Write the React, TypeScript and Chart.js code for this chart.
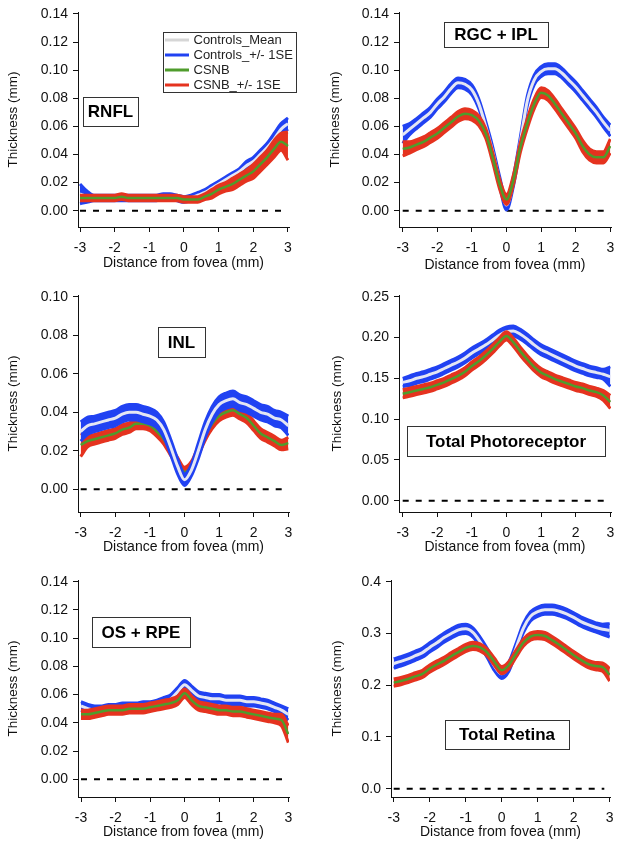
import React, { useEffect, useRef } from 'react';
import { Chart, registerables } from 'chart.js';

Chart.register(...registerables);

const FONT = '"Liberation Sans", Arial, Helvetica, sans-serif';

// ---------- data ----------
const distanceMm = [-3.0, -2.8, -2.6, -2.4, -2.2, -2.0, -1.8, -1.6, -1.4, -1.2, -1.0, -0.8, -0.6, -0.4, -0.2, 0.0, 0.2, 0.4, 0.6, 0.8, 1.0, 1.2, 1.4, 1.6, 1.8, 2.0, 2.2, 2.4, 2.6, 2.8, 3.0];

const legendLabels = ['Controls_Mean', 'Controls_+/- 1SE', 'CSNB', 'CSNB_+/- 1SE'];
const xTickValues = [-3, -2, -1, 0, 1, 2, 3];
const yTicks014 = [0, 0.02, 0.04, 0.06, 0.08, 0.1, 0.12, 0.14];
const yTicks010 = [0, 0.02, 0.04, 0.06, 0.08, 0.1];
const yTicks025 = [0, 0.05, 0.1, 0.15, 0.2, 0.25];
const yTicks04 = [0, 0.1, 0.2, 0.3, 0.4];
const zeroLineX = [-3, 2.85];
const zeroLineY = [0, 0];

// RNFL
const rnflCtrlMean = [0.012, 0.010, 0.009, 0.009, 0.009, 0.009, 0.009, 0.009, 0.009, 0.009, 0.009, 0.009, 0.010, 0.010, 0.009, 0.008, 0.009, 0.011, 0.013, 0.016, 0.019, 0.022, 0.025, 0.028, 0.032, 0.035, 0.040, 0.045, 0.051, 0.058, 0.062];
const rnflCtrlSE = [0.007, 0.004, 0.002, 0.002, 0.002, 0.002, 0.002, 0.002, 0.002, 0.002, 0.002, 0.002, 0.002, 0.002, 0.002, 0.002, 0.002, 0.002, 0.002, 0.002, 0.002, 0.002, 0.002, 0.002, 0.003, 0.003, 0.003, 0.003, 0.004, 0.004, 0.004];
const rnflCsnbMean = [0.009, 0.009, 0.009, 0.009, 0.009, 0.009, 0.010, 0.009, 0.009, 0.009, 0.009, 0.009, 0.009, 0.009, 0.009, 0.008, 0.008, 0.008, 0.010, 0.012, 0.015, 0.017, 0.019, 0.022, 0.025, 0.028, 0.033, 0.038, 0.044, 0.049, 0.046];
const rnflCsnbSE = [0.002, 0.002, 0.002, 0.002, 0.002, 0.002, 0.002, 0.002, 0.002, 0.002, 0.002, 0.002, 0.002, 0.002, 0.002, 0.002, 0.002, 0.002, 0.002, 0.003, 0.003, 0.003, 0.004, 0.004, 0.004, 0.005, 0.005, 0.005, 0.006, 0.006, 0.010];

// RGC + IPL
const rgcCtrlMean = [0.054, 0.058, 0.062, 0.066, 0.070, 0.076, 0.081, 0.087, 0.091, 0.090, 0.086, 0.076, 0.060, 0.042, 0.021, 0.004, 0.021, 0.049, 0.078, 0.093, 0.099, 0.101, 0.101, 0.098, 0.093, 0.088, 0.082, 0.076, 0.070, 0.063, 0.057];
const rgcCtrlSE = [0.006, 0.004, 0.0035, 0.0035, 0.0035, 0.0035, 0.0035, 0.0035, 0.0035, 0.0035, 0.0035, 0.0035, 0.0035, 0.0035, 0.0035, 0.0035, 0.0035, 0.0035, 0.0035, 0.0035, 0.0035, 0.0035, 0.0035, 0.0035, 0.0035, 0.0035, 0.0035, 0.0035, 0.0035, 0.0035, 0.004];
const rgcCsnbMean = [0.044, 0.045, 0.047, 0.049, 0.052, 0.055, 0.059, 0.063, 0.067, 0.069, 0.068, 0.064, 0.055, 0.038, 0.019, 0.008, 0.022, 0.045, 0.062, 0.076, 0.084, 0.082, 0.076, 0.069, 0.062, 0.055, 0.046, 0.040, 0.038, 0.038, 0.046];
const rgcCsnbSE = [0.005, 0.004, 0.0035, 0.0035, 0.0035, 0.0035, 0.0035, 0.0035, 0.0035, 0.0035, 0.0035, 0.0035, 0.0035, 0.0035, 0.0035, 0.0035, 0.0035, 0.0035, 0.0035, 0.0035, 0.0035, 0.0035, 0.0035, 0.0035, 0.0035, 0.0035, 0.004, 0.004, 0.004, 0.004, 0.005];

// INL
const inlCtrlMean = [0.030, 0.033, 0.034, 0.035, 0.036, 0.037, 0.039, 0.040, 0.040, 0.039, 0.038, 0.036, 0.031, 0.022, 0.012, 0.005, 0.010, 0.020, 0.031, 0.039, 0.044, 0.046, 0.047, 0.045, 0.044, 0.042, 0.040, 0.039, 0.037, 0.036, 0.033];
const inlCtrlSE = [0.005, 0.0045, 0.004, 0.004, 0.004, 0.004, 0.004, 0.004, 0.004, 0.004, 0.004, 0.004, 0.004, 0.004, 0.004, 0.003, 0.003, 0.004, 0.004, 0.004, 0.004, 0.004, 0.004, 0.004, 0.004, 0.004, 0.004, 0.004, 0.004, 0.004, 0.005];
const inlCsnbMean = [0.023, 0.025, 0.026, 0.027, 0.028, 0.029, 0.031, 0.032, 0.034, 0.034, 0.033, 0.030, 0.026, 0.020, 0.014, 0.009, 0.012, 0.020, 0.028, 0.034, 0.038, 0.040, 0.041, 0.039, 0.037, 0.033, 0.029, 0.027, 0.025, 0.023, 0.024];
const inlCsnbSE = [0.006, 0.003, 0.0025, 0.0025, 0.0025, 0.0025, 0.0025, 0.0025, 0.0025, 0.0025, 0.0025, 0.0025, 0.0025, 0.0025, 0.0025, 0.0025, 0.0025, 0.0025, 0.0025, 0.0025, 0.0025, 0.0025, 0.0025, 0.0025, 0.0025, 0.0025, 0.0025, 0.0025, 0.0025, 0.0025, 0.003];

// Total Photoreceptor
const prCtrlMean = [0.145, 0.147, 0.150, 0.152, 0.155, 0.158, 0.162, 0.166, 0.170, 0.175, 0.181, 0.186, 0.191, 0.197, 0.203, 0.207, 0.208, 0.204, 0.198, 0.191, 0.185, 0.181, 0.177, 0.173, 0.169, 0.165, 0.162, 0.159, 0.157, 0.155, 0.152];
const prCtrlSE = [0.005, 0.006, 0.006, 0.006, 0.006, 0.006, 0.006, 0.006, 0.006, 0.006, 0.006, 0.006, 0.006, 0.006, 0.006, 0.006, 0.006, 0.006, 0.006, 0.006, 0.006, 0.006, 0.006, 0.006, 0.006, 0.006, 0.006, 0.006, 0.006, 0.006, 0.012];
const prCsnbMean = [0.131, 0.133, 0.135, 0.137, 0.139, 0.142, 0.145, 0.149, 0.153, 0.158, 0.165, 0.171, 0.178, 0.186, 0.195, 0.202, 0.194, 0.183, 0.173, 0.164, 0.157, 0.153, 0.149, 0.146, 0.143, 0.140, 0.138, 0.135, 0.133, 0.129, 0.121];
const prCsnbSE = [0.005, 0.005, 0.005, 0.005, 0.005, 0.005, 0.005, 0.005, 0.005, 0.005, 0.005, 0.005, 0.005, 0.005, 0.005, 0.005, 0.005, 0.005, 0.005, 0.005, 0.005, 0.005, 0.005, 0.005, 0.005, 0.005, 0.005, 0.005, 0.005, 0.006, 0.008];

// OS + RPE
const osCtrlMean = [0.052, 0.050, 0.049, 0.049, 0.050, 0.050, 0.051, 0.051, 0.051, 0.052, 0.052, 0.053, 0.055, 0.057, 0.062, 0.067, 0.063, 0.059, 0.058, 0.057, 0.057, 0.056, 0.056, 0.056, 0.055, 0.055, 0.054, 0.053, 0.051, 0.049, 0.046];
const osCtrlSE = [0.003, 0.003, 0.003, 0.003, 0.003, 0.003, 0.003, 0.003, 0.003, 0.003, 0.003, 0.003, 0.003, 0.003, 0.003, 0.003, 0.003, 0.003, 0.003, 0.003, 0.003, 0.003, 0.003, 0.003, 0.003, 0.003, 0.003, 0.003, 0.003, 0.003, 0.004];
const osCsnbMean = [0.046, 0.046, 0.047, 0.048, 0.049, 0.049, 0.049, 0.050, 0.050, 0.050, 0.051, 0.052, 0.053, 0.054, 0.056, 0.061, 0.056, 0.052, 0.051, 0.050, 0.049, 0.049, 0.048, 0.048, 0.047, 0.046, 0.045, 0.044, 0.043, 0.042, 0.032];
const osCsnbSE = [0.003, 0.003, 0.003, 0.003, 0.003, 0.003, 0.003, 0.003, 0.003, 0.003, 0.003, 0.003, 0.003, 0.003, 0.003, 0.003, 0.003, 0.003, 0.003, 0.003, 0.003, 0.003, 0.003, 0.003, 0.003, 0.003, 0.003, 0.003, 0.003, 0.004, 0.006];

// Total Retina
const trCtrlMean = [0.242, 0.246, 0.251, 0.257, 0.263, 0.273, 0.282, 0.292, 0.300, 0.307, 0.309, 0.302, 0.284, 0.262, 0.237, 0.222, 0.236, 0.272, 0.310, 0.333, 0.342, 0.346, 0.346, 0.343, 0.338, 0.331, 0.323, 0.317, 0.312, 0.308, 0.306];
const trCtrlSE = [0.009, 0.009, 0.009, 0.009, 0.009, 0.009, 0.009, 0.009, 0.009, 0.009, 0.009, 0.009, 0.009, 0.009, 0.009, 0.009, 0.009, 0.009, 0.009, 0.009, 0.009, 0.009, 0.009, 0.009, 0.009, 0.009, 0.009, 0.009, 0.009, 0.010, 0.013];
const trCsnbMean = [0.205, 0.208, 0.212, 0.217, 0.222, 0.232, 0.240, 0.247, 0.256, 0.264, 0.272, 0.276, 0.273, 0.263, 0.245, 0.229, 0.239, 0.261, 0.282, 0.294, 0.297, 0.295, 0.287, 0.278, 0.268, 0.258, 0.249, 0.241, 0.237, 0.235, 0.220];
const trCsnbSE = [0.007, 0.007, 0.007, 0.007, 0.007, 0.007, 0.007, 0.007, 0.007, 0.007, 0.007, 0.007, 0.007, 0.007, 0.007, 0.007, 0.007, 0.007, 0.007, 0.007, 0.007, 0.007, 0.007, 0.007, 0.007, 0.007, 0.007, 0.007, 0.007, 0.008, 0.012];

// ---------- styles ----------
const COLORS = {
  ctrlMean: '#e4e6f3',
  ctrlMeanLegend: '#d6d6d6',
  ctrlSE: '#2142f2',
  csnb: '#4f9c2c',
  csnbSE: '#e5331f',
  axis: '#111111',
};

type Rect = { x: number; y: number; w: number; h: number };
type Panel = {
  label: string;
  ctrlMean: number[];
  ctrlSE: number[];
  csnbMean: number[];
  csnbSE: number[];
  yTicks: number[];
  yDecimals: number;
  xMin: number; xMax: number; yMin: number; yMax: number;
  canvas: { left: number; top: number; width: number; height: number };
  area: { left: number; right: number; top: number; bottom: number };
  yTitleX: number;
  xTitleY: number;
  box: Rect;
  legend?: Rect;
  ctrlOnTop?: boolean;
};

const panels: Panel[] = [
  {
    label: 'RNFL', ctrlMean: rnflCtrlMean, ctrlSE: rnflCtrlSE, csnbMean: rnflCsnbMean, csnbSE: rnflCsnbSE,
    yTicks: yTicks014, yDecimals: 2,
    xMin: -3.058, xMax: 3.03, yMin: -0.0116, yMax: 0.1414,
    canvas: { left: 0, top: 0, width: 312, height: 280 },
    area: { left: 78, right: 289, top: 12, bottom: 227 },
    yTitleX: 13, xTitleY: 263,
    box: { x: 83, y: 97, w: 55, h: 29 },
    legend: { x: 163, y: 32, w: 133, h: 60 },
  },
  {
    label: 'RGC + IPL', ctrlMean: rgcCtrlMean, ctrlSE: rgcCtrlSE, csnbMean: rgcCsnbMean, csnbSE: rgcCsnbSE,
    yTicks: yTicks014, yDecimals: 2,
    xMin: -3.107, xMax: 3.02, yMin: -0.0116, yMax: 0.1414,
    canvas: { left: 312, top: 0, width: 312, height: 280 },
    area: { left: 87, right: 299, top: 12, bottom: 227 },
    yTitleX: 23.3, xTitleY: 265,
    box: { x: 132, y: 22, w: 104, h: 25 },
  },
  {
    label: 'INL', ctrlMean: inlCtrlMean, ctrlSE: inlCtrlSE, csnbMean: inlCsnbMean, csnbSE: inlCsnbSE,
    yTicks: yTicks010, yDecimals: 2,
    xMin: -3.078, xMax: 3.02, yMin: -0.01179, yMax: 0.1009,
    canvas: { left: 0, top: 280, width: 312, height: 280 },
    area: { left: 78, right: 289, top: 15, bottom: 232 },
    yTitleX: 13, xTitleY: 266.7,
    box: { x: 158, y: 47, w: 47, h: 30 },
    ctrlOnTop: true,
  },
  {
    label: 'Total Photoreceptor', ctrlMean: prCtrlMean, ctrlSE: prCtrlSE, csnbMean: prCsnbMean, csnbSE: prCsnbSE,
    yTicks: yTicks025, yDecimals: 2,
    xMin: -3.107, xMax: 3.02, yMin: -0.01385, yMax: 0.2521,
    canvas: { left: 312, top: 280, width: 312, height: 280 },
    area: { left: 87, right: 299, top: 15, bottom: 232 },
    yTitleX: 25, xTitleY: 266.7,
    box: { x: 95, y: 146, w: 198, h: 30 },
  },
  {
    label: 'OS + RPE', ctrlMean: osCtrlMean, ctrlSE: osCtrlSE, csnbMean: osCsnbMean, csnbSE: osCsnbSE,
    yTicks: yTicks014, yDecimals: 2,
    xMin: -3.087, xMax: 3.02, yMin: -0.01254, yMax: 0.1412,
    canvas: { left: 0, top: 560, width: 312, height: 286 },
    area: { left: 78, right: 289, top: 20, bottom: 237 },
    yTitleX: 13, xTitleY: 271.7,
    box: { x: 92, y: 57, w: 98, h: 30 },
  },
  {
    label: 'Total Retina', ctrlMean: trCtrlMean, ctrlSE: trCtrlSE, csnbMean: trCsnbMean, csnbSE: trCsnbSE,
    yTicks: yTicks04, yDecimals: 1,
    xMin: -3.075, xMax: 3.008, yMin: -0.01604, yMax: 0.4033,
    canvas: { left: 312, top: 560, width: 312, height: 286 },
    area: { left: 79, right: 298, top: 20, bottom: 237 },
    yTitleX: 25, xTitleY: 271.7,
    box: { x: 133, y: 160, w: 124, h: 29 },
  },
];

const TICK_FONT = { family: FONT, size: 14 };
const XTITLE_FONT = { family: FONT, size: 14 };
const YTITLE_FONT = { family: FONT, size: 13.5 };

function makeConfig(p: Panel): any {
  const pts = (ys: number[], sign: number, se: number[] | null) =>
    distanceMm.map((x, i) => ({ x, y: ys[i] + (se ? sign * se[i] : 0) }));
  const line = (data: any[], color: string, width: number, extra: any = {}) => ({
    data,
    borderColor: color,
    backgroundColor: color,
    borderWidth: width,
    pointRadius: 0,
    pointHoverRadius: 0,
    fill: false,
    cubicInterpolationMode: 'monotone',
    ...extra,
  });
  const ctrl = [
    line(pts(p.ctrlMean, 0, null), COLORS.ctrlMean, 3),
    line(pts(p.ctrlMean, 1, p.ctrlSE), COLORS.ctrlSE, 3),
    line(pts(p.ctrlMean, -1, p.ctrlSE), COLORS.ctrlSE, 3, { fill: '-1' }),
  ];
  const csnb = [
    line(pts(p.csnbMean, 0, null), COLORS.csnb, 2.5),
    line(pts(p.csnbMean, 1, p.csnbSE), COLORS.csnbSE, 3),
    line(pts(p.csnbMean, -1, p.csnbSE), COLORS.csnbSE, 3, { fill: '-1' }),
  ];
  const zero = {
    data: zeroLineX.map((x, i) => ({ x, y: zeroLineY[i] })),
    borderColor: '#000',
    borderWidth: 2,
    borderDash: [6, 7],
    pointRadius: 0,
    fill: false,
  };
  const datasets = p.ctrlOnTop ? [...ctrl, ...csnb, zero] : [...csnb, ...ctrl, zero];

  const yTitleHalf = (YTITLE_FONT.size * 1.2) / 2;
  const xTitleHalf = (XTITLE_FONT.size * 1.2) / 2;

  const decor = {
    id: 'decor',
    afterDraw(chart: any) {
      const ctx = chart.ctx as CanvasRenderingContext2D;
      ctx.save();
      const b = p.box;
      ctx.fillStyle = '#ffffff';
      ctx.fillRect(b.x, b.y, b.w, b.h);
      ctx.strokeStyle = '#333333';
      ctx.lineWidth = 1;
      ctx.strokeRect(Math.round(b.x) + 0.5, Math.round(b.y) + 0.5, b.w, b.h);
      ctx.fillStyle = '#000000';
      ctx.font = `bold 17px ${FONT}`;
      ctx.textAlign = 'center';
      ctx.textBaseline = 'middle';
      ctx.fillText(p.label, b.x + b.w / 2, b.y + b.h / 2 + 1);
      if (p.legend) {
        const l = p.legend;
        ctx.fillStyle = '#ffffff';
        ctx.fillRect(l.x, l.y, l.w, l.h);
        ctx.strokeStyle = '#333333';
        ctx.strokeRect(Math.round(l.x) + 0.5, Math.round(l.y) + 0.5, l.w, l.h);
        const colors = [COLORS.ctrlMeanLegend, COLORS.ctrlSE, COLORS.csnb, COLORS.csnbSE];
        const step = l.h / legendLabels.length;
        ctx.font = `13px ${FONT}`;
        ctx.textAlign = 'left';
        legendLabels.forEach((t, i) => {
          const cy = l.y + step * (i + 0.5) + 0.5;
          ctx.strokeStyle = colors[i];
          ctx.lineWidth = 3;
          ctx.beginPath();
          ctx.moveTo(l.x + 2, cy);
          ctx.lineTo(l.x + 26, cy);
          ctx.stroke();
          ctx.fillStyle = '#222222';
          ctx.fillText(t, l.x + 30.5, cy);
        });
      }
      ctx.restore();
    },
  };

  return {
    type: 'line',
    data: { datasets },
    plugins: [decor],
    options: {
      responsive: false,
      maintainAspectRatio: false,
      devicePixelRatio: 1,
      animation: false,
      events: [],
      layout: {
        padding: { left: 0, top: p.area.top, right: p.canvas.width - p.area.right, bottom: 0 },
      },
      plugins: { legend: { display: false }, tooltip: { enabled: false } },
      scales: {
        x: {
          type: 'linear',
          min: p.xMin,
          max: p.xMax,
          afterBuildTicks: (s: any) => {
            s.ticks = xTickValues.map((v) => ({ value: v }));
          },
          afterFit: (s: any) => {
            s.height = p.canvas.height - p.area.bottom;
            s.paddingLeft = 0;
            s.paddingRight = 0;
          },
          grid: { display: true, drawOnChartArea: false, drawTicks: true, tickLength: 5, color: COLORS.axis, lineWidth: 1 },
          border: { display: true, color: COLORS.axis, width: 1 },
          ticks: {
            font: TICK_FONT,
            color: '#111',
            padding: 7.5,
            maxRotation: 0,
            autoSkip: false,
            callback: (v: any) => String(v),
          },
          title: {
            display: true,
            text: 'Distance from fovea (mm)',
            font: XTITLE_FONT,
            color: '#111',
            padding: { top: 0, bottom: p.canvas.height - p.xTitleY - xTitleHalf },
          },
        },
        y: {
          type: 'linear',
          min: p.yMin,
          max: p.yMax,
          afterBuildTicks: (s: any) => {
            s.ticks = p.yTicks.map((v) => ({ value: v }));
          },
          afterFit: (s: any) => {
            s.width = p.area.left;
            s.paddingTop = 0;
            s.paddingBottom = 0;
          },
          grid: { display: true, drawOnChartArea: false, drawTicks: true, tickLength: 5, color: COLORS.axis, lineWidth: 1 },
          border: { display: true, color: COLORS.axis, width: 1 },
          ticks: {
            font: TICK_FONT,
            color: '#111',
            padding: 5,
            autoSkip: false,
            callback: (v: any) => Number(v).toFixed(p.yDecimals),
          },
          title: {
            display: true,
            text: 'Thickness (mm)',
            font: YTITLE_FONT,
            color: '#111',
            padding: { top: p.yTitleX - yTitleHalf, bottom: 0 },
          },
        },
      },
    },
  };
}

function PanelChart({ panel }: { panel: Panel }) {
  const ref = useRef<HTMLCanvasElement | null>(null);
  useEffect(() => {
    if (!ref.current) return;
    const chart = new Chart(ref.current, makeConfig(panel));
    return () => chart.destroy();
  }, [panel]);
  const c = panel.canvas;
  return (
    <canvas
      ref={ref}
      width={c.width}
      height={c.height}
      style={{ position: 'absolute', left: c.left, top: c.top, width: c.width, height: c.height, display: 'block' }}
    />
  );
}

export default function App() {
  return (
    <div style={{ position: 'absolute', left: 0, top: 0, width: 624, height: 846, background: '#ffffff', overflow: 'hidden' }}>
      {panels.map((p) => (
        <PanelChart key={p.label} panel={p} />
      ))}
    </div>
  );
}
